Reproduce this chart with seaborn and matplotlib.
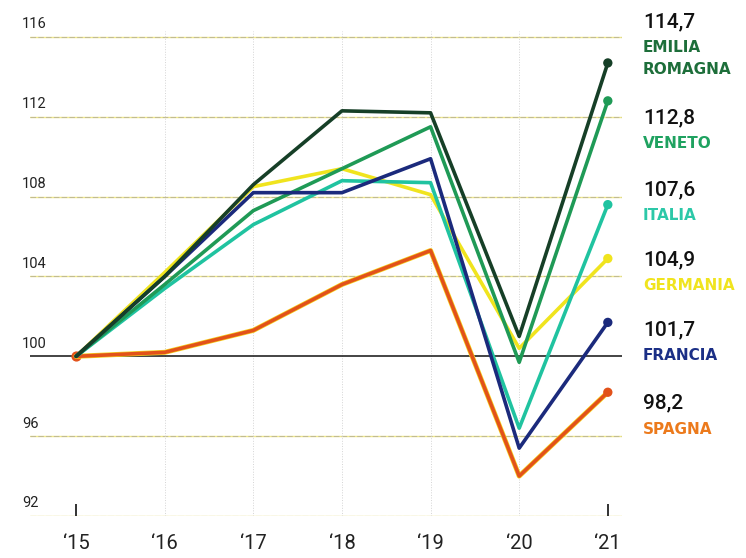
import matplotlib
matplotlib.use("Agg")
import matplotlib.pyplot as plt
import seaborn as sns
import pandas as pd

# GDP index, 2015 = 100
years = [2015, 2016, 2017, 2018, 2019, 2020, 2021]
year_labels = ["\u201815", "\u201816", "\u201817", "\u201818", "\u201819", "\u201820", "\u201821"]

emilia_romagna = [100, 104.0, 108.6, 112.3, 112.2, 101.0, 114.7]
veneto = [100, 103.6, 107.3, 109.4, 111.5, 99.7, 112.8]
italia = [100, 103.4, 106.6, 108.8, 108.7, 96.4, 107.6]
germania = [100, 104.2, 108.5, 109.4, 108.1, 100.4, 104.9]
francia = [100, 104.0, 108.2, 108.2, 109.9, 95.4, 101.7]
spagna = [100, 100.2, 101.3, 103.6, 105.3, 94.0, 98.2]

series_names = ["SPAGNA", "GERMANIA", "ITALIA", "VENETO", "FRANCIA", "EMILIA ROMAGNA"]
series_values = [spagna, germania, italia, veneto, francia, emilia_romagna]
line_colors = ["#e2521a", "#f0e41e", "#20c3a0", "#1f9a56", "#1b2a7c", "#163f27"]
label_colors = ["#ec7a1c", "#f0e41e", "#2cc8a8", "#1fa260", "#1b2f86", "#1d6e3a"]
value_texts = ["98,2", "104,9", "107,6", "112,8", "101,7", "114,7"]

y_ticks = [92, 96, 100, 104, 108, 112, 116]

df = pd.DataFrame(
    [(name, y, v) for name, vals in zip(series_names, series_values) for y, v in zip(years, vals)],
    columns=["serie", "anno", "indice"],
)

sns.set_theme(style="white")
plt.rcParams["font.family"] = ["Roboto", "DejaVu Sans"]

fig = plt.figure(figsize=(7.46, 5.58), dpi=100)
ax = fig.add_axes([30 / 746, 42 / 558, 592 / 746, 485 / 558])

# horizontal grid: pale yellow rule with a faint dashed grey overprint
for v in y_ticks:
    if v == 100:
        continue
    ax.axhline(v, color="#f0ea8c", lw=1.0, zorder=0)
    ax.axhline(v, color="#8c8498", lw=0.8, ls=(0, (5, 2)), alpha=0.45, zorder=0)
ax.axhline(100, color="#111111", lw=1.1, zorder=1)

# faint dotted year guides
for yr in years[1:-1]:
    ax.axvline(yr, color="#d4d4d4", lw=0.7, ls=":", zorder=0)
ax.vlines([years[0], years[-1]], 92, 92.6, color="#222222", lw=1.3, zorder=2)

palette = dict(zip(series_names, line_colors))

# thin yellow halo under the Spain line
sp = df[df["serie"] == "SPAGNA"]
sns.lineplot(data=sp, x="anno", y="indice", color="#f6d21e", linewidth=3.6,
             legend=False, ax=ax, zorder=2.5)

sns.lineplot(
    data=df, x="anno", y="indice", hue="serie", hue_order=series_names,
    palette=palette, linewidth=2.6, legend=False, ax=ax, zorder=3,
)

# end-point dots
last = df[df["anno"] == years[-1]]
sns.scatterplot(
    data=last, x="anno", y="indice", hue="serie", hue_order=series_names,
    palette=palette, s=45, edgecolor="none", legend=False, ax=ax, zorder=4,
)
# start dot
ax.scatter([years[0]], [spagna[0]], s=40, color="#e2521a", zorder=2)

ax.set_xlim(2014.48, 2021.16)
ax.set_ylim(92, 116.3)
ax.set_xticks([])
ax.set_yticks([])
ax.set_xlabel("")
ax.set_ylabel("")
for s in ax.spines.values():
    s.set_visible(False)

# y labels sit above their rules at the left edge
for v in y_ticks:
    ax.annotate(str(v), xy=(22, v), xycoords=("figure pixels", "data"),
                xytext=(0, 4), textcoords="offset points",
                ha="left", va="bottom", fontsize=10.5, color="#222222")

# x labels
for yr, lab in zip(years, year_labels):
    ax.annotate(lab, xy=(yr, 92), xycoords="data", xytext=(0, -20),
                textcoords="offset points", ha="center", va="center",
                fontsize=14.5, color="#222222")

# right-hand value / name labels (pixel rows)
label_rows = {
    "EMILIA ROMAGNA": (22, ["EMILIA", "ROMAGNA"]),
    "VENETO": (118, ["VENETO"]),
    "ITALIA": (190, ["ITALIA"]),
    "GERMANIA": (260, ["GERMANIA"]),
    "FRANCIA": (330, ["FRANCIA"]),
    "SPAGNA": (403, ["SPAGNA"]),
}
for name, vtxt, lcol in zip(series_names, value_texts, label_colors):
    y0, lines = label_rows[name]
    fig.text(643 / 746, 1 - y0 / 558, vtxt, ha="left", va="center",
             fontsize=15, color="#111111", fontweight="medium")
    for i, ln in enumerate(lines):
        fig.text(643 / 746, 1 - (y0 + 26 + 22 * i) / 558, ln, ha="left", va="center",
                 fontsize=11, color=lcol, fontweight="bold",
                 family=["DejaVu Sans"])

fig.savefig("out.png", dpi=100, facecolor="white")
